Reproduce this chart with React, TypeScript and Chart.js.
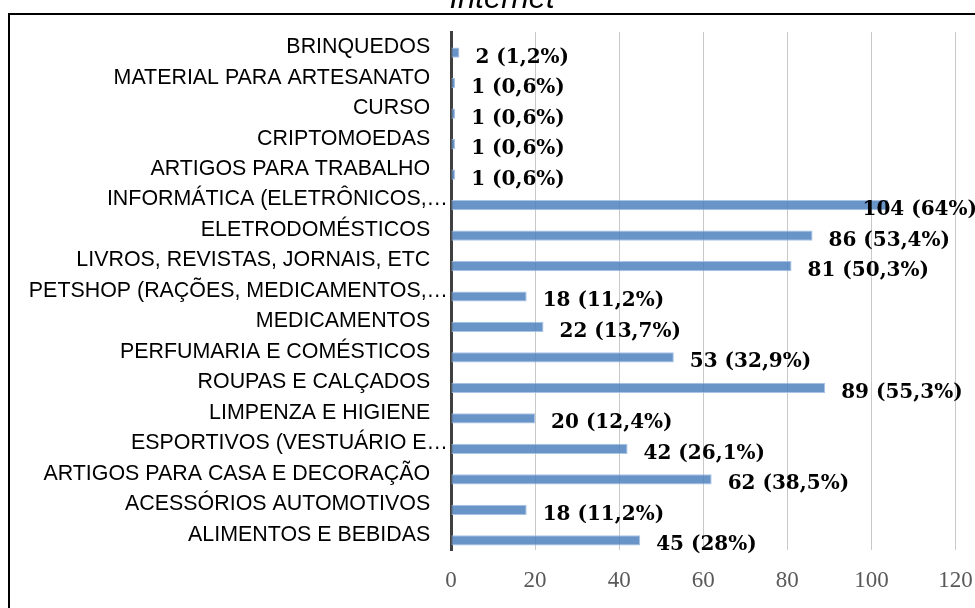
import { useEffect, useRef } from 'react';
import { Chart, registerables } from 'chart.js';

Chart.register(...registerables);

const TITLE = 'Internet';

const categories = [
  'BRINQUEDOS',
  'MATERIAL PARA ARTESANATO',
  'CURSO',
  'CRIPTOMOEDAS',
  'ARTIGOS PARA TRABALHO',
  'INFORMÁTICA (ELETRÔNICOS,…',
  'ELETRODOMÉSTICOS',
  'LIVROS, REVISTAS, JORNAIS, ETC',
  'PETSHOP (RAÇÕES, MEDICAMENTOS,…',
  'MEDICAMENTOS',
  'PERFUMARIA E COMÉSTICOS',
  'ROUPAS E CALÇADOS',
  'LIMPENZA E HIGIENE',
  'ESPORTIVOS (VESTUÁRIO E…',
  'ARTIGOS PARA CASA E DECORAÇÃO',
  'ACESSÓRIOS AUTOMOTIVOS',
  'ALIMENTOS E BEBIDAS',
];

const counts = [2, 1, 1, 1, 1, 104, 86, 81, 18, 22, 53, 89, 20, 42, 62, 18, 45];

const shares = [
  '1,2%', '0,6%', '0,6%', '0,6%', '0,6%', '64%', '53,4%', '50,3%', '11,2%',
  '13,7%', '32,9%', '55,3%', '12,4%', '26,1%', '38,5%', '11,2%', '28%',
];

const spacer = categories.map(() => null);

const X_MIN = 0;
const X_MAX = 120;
const X_STEP = 20;

export default function App() {
  const ref = useRef<HTMLCanvasElement>(null);

  useEffect(() => {
    const canvas = ref.current;
    if (!canvas) return;

    const framePlugin = {
      id: 'frame',
      afterDraw(chart: any) {
        const ctx = chart.ctx;
        ctx.save();
        ctx.strokeStyle = '#000000';
        ctx.lineWidth = 2;
        ctx.strokeRect(9, 14, chart.width + 20, chart.height + 20);
        ctx.fillStyle = '#000000';
        ctx.font = 'italic 31px "Liberation Sans", Arial, sans-serif';
        ctx.textAlign = 'center';
        ctx.textBaseline = 'alphabetic';
        ctx.fillText(TITLE, 502, 8);
        ctx.restore();
      },
    };

    const labelPlugin = {
      id: 'valueLabels',
      afterDatasetsDraw(chart: any) {
        const ctx = chart.ctx;
        const meta = chart.getDatasetMeta(1);
        ctx.save();
        ctx.font = 'bold 20px "DejaVu Serif", serif';
        ctx.fillStyle = '#000000';
        ctx.textAlign = 'left';
        ctx.textBaseline = 'alphabetic';
        meta.data.forEach((bar: any, i: number) => {
          const text = `${counts[i]} (${shares[i]})`;
          const w = ctx.measureText(text).width;
          const x = Math.min(bar.x + 16, chart.width + 2 - w);
          ctx.fillText(text, x, bar.y + 10);
        });
        ctx.restore();
      },
    };

    const chart = new Chart(canvas, {
      type: 'bar',
      data: {
        labels: categories,
        datasets: [
          {
            label: '',
            data: spacer as any,
            backgroundColor: 'rgba(0,0,0,0)',
          },
          {
            label: TITLE,
            data: counts,
            backgroundColor: 'rgba(79,129,189,0.85)',
            borderColor: 'rgba(160,190,228,0.9)',
            borderWidth: 1,
            borderSkipped: false,
          },
        ],
      },
      options: {
        indexAxis: 'y',
        responsive: false,
        animation: false,
        maintainAspectRatio: false,
        datasets: {
          bar: {
            categoryPercentage: 0.722,
            barPercentage: 0.93,
          },
        },
        layout: {
          padding: { top: 32, right: 19.5, bottom: 0, left: 0 },
        },
        plugins: {
          legend: { display: false },
          title: { display: false },
          tooltip: { enabled: false },
        },
        scales: {
          x: {
            type: 'linear',
            position: 'bottom',
            min: X_MIN,
            max: X_MAX,
            ticks: {
              stepSize: X_STEP,
              padding: 17,
              color: '#595959',
              font: { family: '"Liberation Serif", "Times New Roman", serif', size: 23 },
            },
            grid: {
              color: '#c8c8c8',
              lineWidth: 1,
              drawTicks: false,
            },
            border: { display: false },
            afterFit: (scale: any) => {
              scale.height = 58;
              scale.paddingLeft = 0;
              scale.paddingRight = 0;
            },
          },
          y: {
            type: 'category',
            ticks: {
              autoSkip: false,
              padding: 3,
              color: '#000000',
              font: { family: '"Liberation Sans", Arial, sans-serif', size: 21.4 },
              callback: (_v: any, i: number) => {
                const l = categories[i];
                return l.endsWith('…') ? l : l + '   ';
              },
            },
            grid: { display: false, drawTicks: false },
            border: { display: true, color: '#404040', width: 3 },
            afterFit: (scale: any) => {
              scale.width = 451;
              scale.paddingTop = 0;
              scale.paddingBottom = 0;
            },
          },
        },
      },
      plugins: [framePlugin, labelPlugin],
    });

    return () => {
      chart.destroy();
    };
  }, []);

  return (
    <div style={{ position: 'absolute', left: 0, top: 0, width: 975, height: 608, background: '#ffffff' }}>
      <canvas ref={ref} width={975} height={608} style={{ display: 'block' }} />
    </div>
  );
}
